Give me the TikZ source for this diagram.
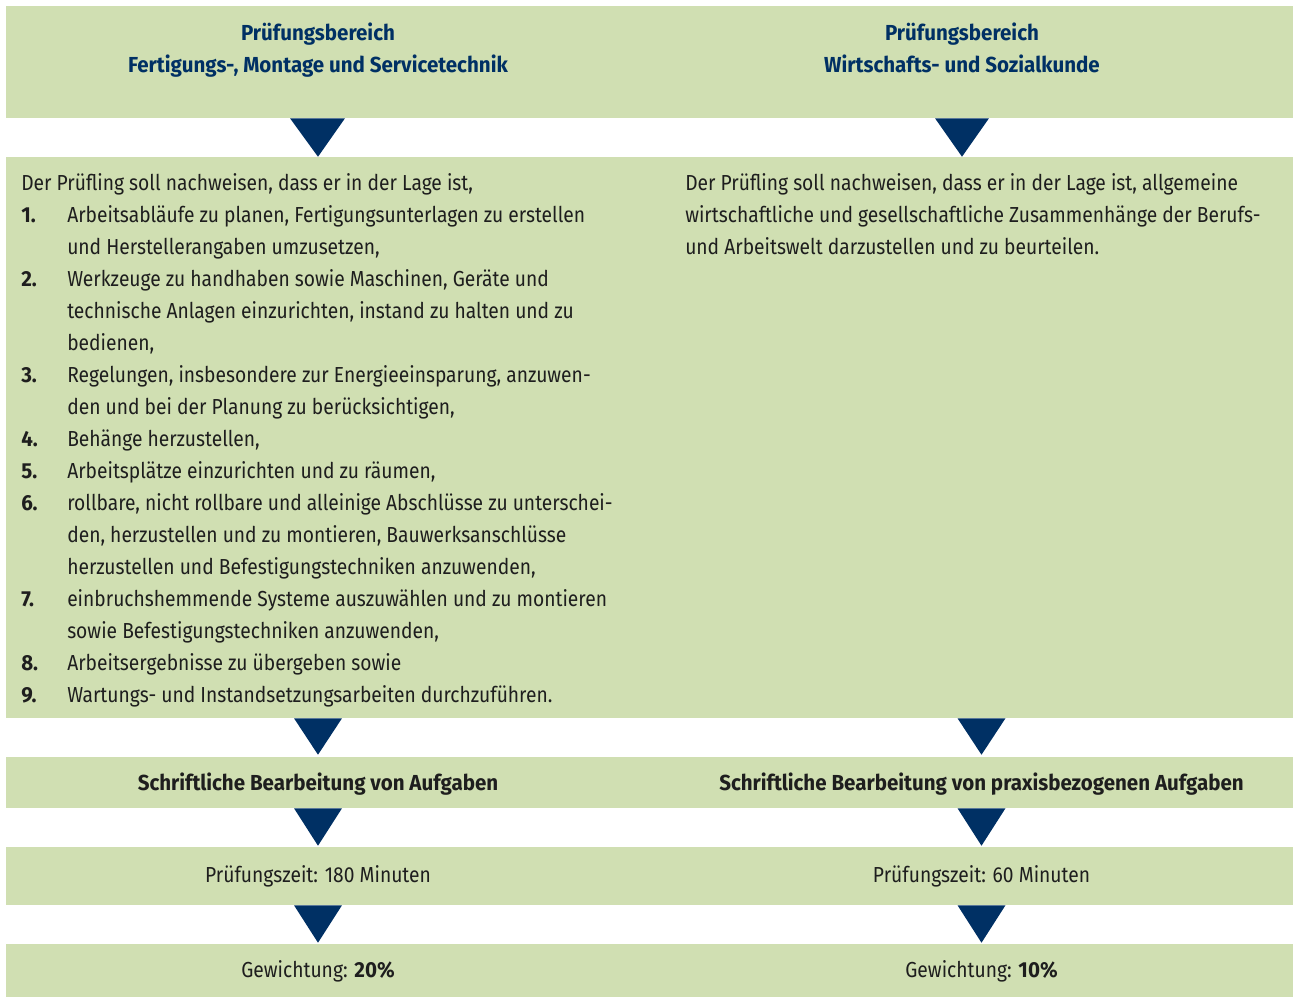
\documentclass[tikz,border=0pt]{standalone}
\usepackage{fontspec}
\setmainfont[FakeStretch=0.885,BoldFeatures={FakeStretch=0.945}]{Fira Sans}
\usetikzlibrary{fit,calc}
\definecolor{bandgreen}{RGB}{208,223,178}
\definecolor{navy}{RGB}{0,48,100}
\definecolor{ink}{RGB}{30,30,30}
\newcommand\ItemNo[1]{\makebox[34.5pt][l]{\textbf{#1}}}
\newcommand\ContLine{\hspace*{34.5pt}}
\tikzset{
  band/.style={fill=bandgreen, draw=none, inner sep=0pt},
  hdr/.style={text=navy, font=\fontsize{16.3}{24}\selectfont\bfseries, anchor=base, inner sep=0pt},
  lbl/.style={text=ink, font=\fontsize{16.3}{24}\selectfont, anchor=base, inner sep=0pt},
  body/.style={text=ink, font=\fontsize{16.3}{24}\selectfont, anchor=base west, inner sep=0pt},
  tri/.style={fill=navy, draw=none}
}
\begin{document}
\begin{tikzpicture}[x=0.75pt,y=-0.75pt]
\useasboundingbox (0,0) rectangle (1293,997);
% bands
\node[band, fit={(6,6) (1293,118)}] (head) {};
\node[band, fit={(6,157) (1293,718)}] (main) {};
\node[band, fit={(6,757) (1293,808)}] (form) {};
\node[band, fit={(6,847) (1293,905)}] (time) {};
\node[band, fit={(6,944) (1293,997)}] (weight) {};
% column axes
\coordinate (LA) at (318,0);
\coordinate (RA) at (962,0);
\coordinate (RB) at (981.5,0);
% header texts
\node[hdr] (hl1) at (318,40) {Prüfungsbereich};
\node[hdr] (hl2) at (318,72) {Fertigungs-, Montage und Servicetechnik};
\node[hdr] (hr1) at (962,40) {Prüfungsbereich};
\node[hdr] (hr2) at (962,72) {Wirtschafts- und Sozialkunde};
% body texts
\node[body] (bl) at (21,190) {\parbox[t]{640\dimexpr0.75pt\relax}{\raggedright
Der Prüfling soll nachweisen, dass er in der Lage ist,\\
\ItemNo{1.}Arbeitsabläufe zu planen, Fertigungsunterlagen zu erstellen\\
\ContLine und Herstellerangaben umzusetzen,\\
\ItemNo{2.}Werkzeuge zu handhaben sowie Maschinen, Geräte und\\
\ContLine technische Anlagen einzurichten, instand zu halten und zu\\
\ContLine bedienen,\\
\ItemNo{3.}Regelungen, insbesondere zur Energieeinsparung, anzuwen-\\
\ContLine den und bei der Planung zu berücksichtigen,\\
\ItemNo{4.}Behänge herzustellen,\\
\ItemNo{5.}Arbeitsplätze einzurichten und zu räumen,\\
\ItemNo{6.}rollbare, nicht rollbare und alleinige Abschlüsse zu unterschei-\\
\ContLine den, herzustellen und zu montieren, Bauwerksanschlüsse\\
\ContLine herzustellen und Befestigungstechniken anzuwenden,\\
\ItemNo{7.}einbruchshemmende Systeme auszuwählen und zu montieren\\
\ContLine sowie Befestigungstechniken anzuwenden,\\
\ItemNo{8.}Arbeitsergebnisse zu übergeben sowie\\
\ItemNo{9.}Wartungs- und Instandsetzungsarbeiten durchzuführen.}};
\node[body] (br) at (685,190) {\parbox[t]{600\dimexpr0.75pt\relax}{\raggedright
Der Prüfling soll nachweisen, dass er in der Lage ist, allgemeine\\
wirtschaftliche und gesellschaftliche Zusammenhänge der Berufs-\\
und Arbeitswelt darzustellen und zu beurteilen.}};
% lower labels
\node[lbl, font=\fontsize{16.3}{24}\selectfont\bfseries] (fl) at (318,790) {Schriftliche Bearbeitung von Aufgaben};
\node[lbl, font=\fontsize{16.3}{24}\selectfont\bfseries] (fr) at (981.5,790) {Schriftliche Bearbeitung von praxisbezogenen Aufgaben};
\node[lbl] (tl) at (318,882) {Prüfungszeit: 180 Minuten};
\node[lbl] (tr) at (981.5,882) {Prüfungszeit: 60 Minuten};
\node[lbl] (wl) at (318,977) {Gewichtung: \textbf{20\%}};
\node[lbl] (wr) at (981.5,977) {Gewichtung: \textbf{10\%}};
% triangles (connectors)
\fill[tri] ($(LA |- head.south)+(-28,0)$) -- ($(LA |- head.south)+(27,0)$) -- (LA |- main.north) -- cycle;
\fill[tri] ($(RA |- head.south)+(-27,0)$) -- ($(RA |- head.south)+(27,0)$) -- (RA |- main.north) -- cycle;
\fill[tri] ($(LA |- main.south)+(-24,0)$) -- ($(LA |- main.south)+(24,0)$) -- ($(LA |- form.north)+(0,-2)$) -- cycle;
\fill[tri] ($(RB |- main.south)+(-24,0)$) -- ($(RB |- main.south)+(24,0)$) -- ($(RB |- form.north)+(0,-2)$) -- cycle;
\fill[tri] ($(LA |- form.south)+(-24,0)$) -- ($(LA |- form.south)+(24,0)$) -- ($(LA |- time.north)+(0,-1)$) -- cycle;
\fill[tri] ($(RB |- form.south)+(-24,0)$) -- ($(RB |- form.south)+(24,0)$) -- ($(RB |- time.north)+(0,-1)$) -- cycle;
\fill[tri] ($(LA |- time.south)+(-24,0)$) -- ($(LA |- time.south)+(24,0)$) -- ($(LA |- weight.north)+(0,-1)$) -- cycle;
\fill[tri] ($(RB |- time.south)+(-24,0)$) -- ($(RB |- time.south)+(24,0)$) -- ($(RB |- weight.north)+(0,-1)$) -- cycle;
\end{tikzpicture}
\end{document}
